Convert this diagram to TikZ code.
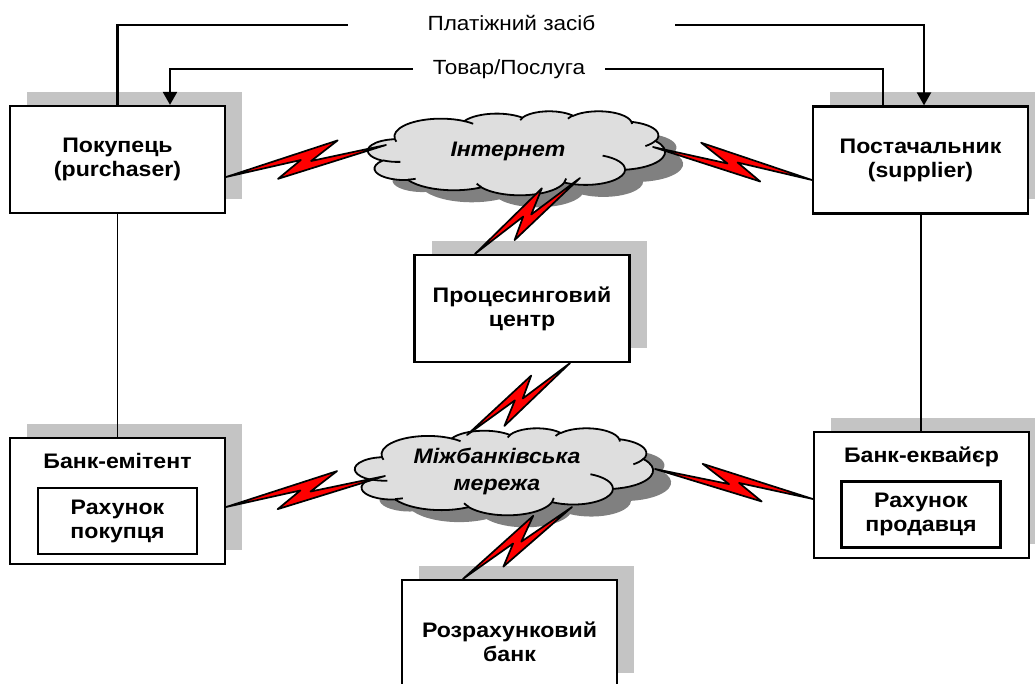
\documentclass[tikz,border=0pt]{standalone}
\usepackage{fontspec}
\setmainfont{Liberation Sans}[FakeStretch=1.1]
\usetikzlibrary{calc,arrows.meta,shadows}
\definecolor{boxshadow}{RGB}{196,196,196}
\definecolor{cloudfill}{RGB}{222,222,222}
\definecolor{cloudshadow}{RGB}{128,128,128}
\definecolor{boltred}{RGB}{255,0,0}

\newcommand\bxfont{\bfseries\fontsize{21}{24}\selectfont}
\newcommand\lblfont{\fontsize{20.5}{23}\selectfont}
\newcommand\cldfont{\bfseries\itshape\fontsize{21}{27}\selectfont}

% elliptic arc given like DrawingML arcTo: wR, hR, start angle, sweep (visual angles)
\newcommand\ooarc[4]{%
  \pgfextra{%
    \pgfmathsetmacro\ooA{atan2((#1)*sin(#3),(#2)*cos(#3))}%
    \pgfmathsetmacro\ooB{atan2((#1)*sin((#3)+(#4)),(#2)*cos((#3)+(#4)))}%
    \pgfmathsetmacro\ooD{\ooB-\ooA}%
    \pgfmathsetmacro\ooD{ifthenelse((#4)>0,ifthenelse(\ooD<0,\ooD+360,\ooD),ifthenelse(\ooD>0,\ooD-360,\ooD))}%
  }%
  arc[start angle=\ooA, delta angle=\ooD, x radius=#1, y radius=#2]}

\newcommand\cloudout{(39,143.7)
 \ooarc{67.53}{91.90}{-190.4875}{123.7805}
 \ooarc{53.33}{72.67}{-144.1024}{89.9452}
 \ooarc{43.65}{59.45}{-145.8079}{99.7230}
 \ooarc{48.57}{65.95}{-130.9861}{117.2417}
 \ooarc{53.33}{72.73}{-78.7089}{109.0269}
 \ooarc{67.75}{92.20}{-46.2673}{130.2690}
 \ooarc{57.85}{78.67}{0.6250}{114.0333}
 \ooarc{67.52}{92.15}{22.4516}{115.1726}
 \ooarc{77.20}{105.43}{66.2426}{75.7110}
 \ooarc{43.60}{59.18}{-274.9421}{146.7356}
 \ooarc{43.45}{59.45}{-246.8285}{152.5189}
 -- cycle}

\newcommand\cloudin{(46.93,261.77) \ooarc{43.45}{59.45}{86.742}{26.4295}
 (69.28,348.99) \ooarc{43.60}{59.18}{73.6105}{11.4475}
 (164.78,390.90) \ooarc{67.52}{92.15}{137.6242}{14.0811}
 (288.27,347.51) \ooarc{67.52}{92.15}{6.4533}{15.9984}
 (341.29,229.54) \ooarc{57.85}{78.67}{-70.2924}{70.9174}
 (417.98,153.54) \ooarc{53.33}{72.73}{30.318}{27.7515}
 (383.24,54.26) \ooarc{48.57}{65.95}{-13.7443}{14.8589}
 (290.78,39.52) \ooarc{48.57}{65.95}{-149.1815}{18.1954}
 (221.41,47.20) \ooarc{43.65}{59.45}{-163.4943}{17.6864}
 (140.00,51.92) \ooarc{67.53}{91.90}{-66.707}{12.3194}
 (41.27,157.89) \ooarc{67.53}{91.90}{157.6544}{11.8582}}

% lightning bolt from #1 (box side) to #2 (cloud side), #3 = 1 or -1 (mirror)
\newcommand\zap[3]{%
  \filldraw[bolt] (#1)
    -- ($(#1)!0.715!(#2)!#3*14pt!90:(#2)$)
    -- ($(#1)!0.53!(#2)!#3*-1pt!90:(#2)$)
    -- (#2)
    -- ($(#1)!0.31!(#2)!#3*-12pt!90:(#2)$)
    -- ($(#1)!0.47!(#2)!#3*2pt!90:(#2)$)
    -- cycle;}

\tikzset{
  box/.style={draw=black, line width=2.2pt, fill=white, minimum width=215pt,
    minimum height=107pt, inner sep=0pt, align=center, font=\bxfont,
    drop shadow={shadow xshift=17pt, shadow yshift=14pt, fill=boxshadow,
      opacity=1, draw=none}},
  inbox/.style={draw=black, line width=2.2pt, fill=white, minimum width=159pt,
    minimum height=66pt, inner sep=0pt, align=center, font=\bxfont},
  title/.style={anchor=base, inner sep=0pt, font=\bxfont},
  txt/.style={inner sep=0pt, align=center, font=\bxfont},
  cldtxt/.style={inner sep=0pt, align=center, font=\cldfont},
  lbl/.style={inner sep=0pt, font=\lblfont, text height=14pt, text depth=3pt},
  conn/.style={draw=black, line width=2.2pt},
  vconn/.style={draw=black, line width=1.6pt},
  tip/.style={-{Triangle[width=14pt,length=13pt]}},
  bolt/.style={fill=boltred, draw=black, line width=1.7pt, line join=round},
  cloudline/.style={draw=black, line width=1.8pt, fill=cloudfill},
  cloudarc/.style={draw=black, line width=1.8pt},
}

\begin{document}
\begin{tikzpicture}[x=1pt, y=-1pt]
\useasboundingbox (0,0) rectangle (1035,684);

% ---- Internet cloud ----
\begin{scope}[shift={(386,123)}, x=0.6875pt, y=-0.19444pt]
  \fill[cloudshadow] \cloudout;
\end{scope}
\begin{scope}[shift={(368,111)}, x=0.6875pt, y=-0.19444pt]
  \path[cloudline] \cloudout;
  \path[cloudarc] \cloudin;
\end{scope}
\node[cldtxt] (inet) at (508,151.5) {Інтернет};

% ---- Interbank cloud ----
\begin{scope}[shift={(373,440)}, x=0.68981pt, y=-0.20139pt]
  \fill[cloudshadow] \cloudout;
\end{scope}
\begin{scope}[shift={(355,428)}, x=0.68981pt, y=-0.20139pt]
  \path[cloudline] \cloudout;
  \path[cloudarc] \cloudin;
\end{scope}
\node[cldtxt] (ibank) at (497,471) {Міжбанківська\\мережа};

% ---- boxes ----
\node[box] (buyer) at (117.5,159.5) {\fontsize{21}{26.5}\selectfont Покупець\\(purchaser)};
\node[box] (supplier) at (920.5,160) {\fontsize{21}{26.5}\selectfont Постачальник\\(supplier)};
\node[box] (proc) at (522,308.5) {Процесинговий\\центр};
\node[box, minimum height=126pt] (emitent) at (117.5,501) {};
\node[title] (emtitle) at (117.5,468) {Банк-емітент};
\node[inbox] (emacc) at (117.5,521) {Рахунок\\покупця};
\node[box, minimum height=126pt] (acquirer) at (921.5,495) {};
\node[title] (actitle) at (921.5,462) {Банк-еквайєр};
\node[inbox] (acacc) at (921,514.5) {Рахунок\\продавця};
\node[box] (settle) at (509.5,633.5) {};
\node[txt] (settletxt) at (509.5,642) {Розрахунковий\\банк};

% ---- top labels and flows ----
\node[lbl, minimum width=327pt] (paylbl) at (511.5,25) {Платіжний засіб};
\node[lbl, minimum width=192pt] (goodslbl) at (509,69) {Товар/Послуга};
\draw[conn] (buyer.north) |- (paylbl.west);
\draw[conn, tip] (paylbl.east) -| ([xshift=3.5pt]supplier.north);
\draw[conn] ([xshift=-37.5pt]supplier.north) |- (goodslbl.east);
\draw[conn, tip] (goodslbl.west) -| ([xshift=52.5pt]buyer.north);

% ---- vertical links ----
\draw[vconn] (buyer.south) -- (emitent.north);
\draw[vconn] ([xshift=0.5pt]supplier.south) -- ([xshift=-0.5pt]acquirer.north);

% ---- bolt end points ----
\coordinate (buyerZ) at ([yshift=-17.5pt]buyer.east);
\coordinate (supplierZ) at ([yshift=-20pt]supplier.west);
\coordinate (procZt) at ([xshift=-47pt]proc.north);
\coordinate (procZb) at ([xshift=48pt]proc.south);
\coordinate (emitentZ) at ([yshift=-6pt]emitent.east);
\coordinate (acquirerZ) at ([yshift=-4pt]acquirer.west);
\coordinate (settleZ) at ([xshift=-46.5pt]settle.north);
\coordinate (inetL) at (386,145);
\coordinate (inetR) at (653,147);
\coordinate (inetB) at (580,178);
\coordinate (ibT) at (467,435);
\coordinate (ibL) at (385,476);
\coordinate (ibR) at (655,469);
\coordinate (ibB) at (572,507);

\zap{buyerZ}{inetL}{1}
\zap{supplierZ}{inetR}{-1}
\zap{procZt}{inetB}{1}
\zap{procZb}{ibT}{1}
\zap{emitentZ}{ibL}{1}
\zap{acquirerZ}{ibR}{-1}
\zap{settleZ}{ibB}{1}
\end{tikzpicture}
\end{document}
